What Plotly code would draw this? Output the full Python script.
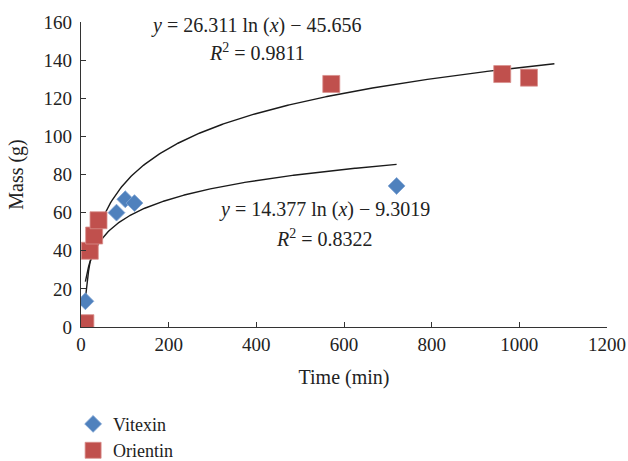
import numpy as np
import plotly.graph_objects as go

# Data
vit_time = [10, 81, 101, 122, 720]
vit_mass = [13.5, 60, 67, 65, 74]
ori_time = [10, 20, 30, 40, 571, 961, 1022]
ori_mass = [2, 40, 48, 56, 127.5, 132.7, 130.8]

# Logarithmic trendline coefficients (as printed on the chart)
vit_a, vit_b = 14.377, -9.3019
ori_a, ori_b = 26.311, -45.656
vit_fit_range = [10, 720]
ori_fit_range = [10, 1080]

x_ticks = [0, 200, 400, 600, 800, 1000, 1200]
y_ticks = [0, 20, 40, 60, 80, 100, 120, 140, 160]

FONT = "Liberation Serif"
BLUE = "#4F81BD"
RED = "#C0504D"
TXT = "#222"

vx = np.linspace(vit_fit_range[0], vit_fit_range[1], 300)
ox = np.linspace(ori_fit_range[0], ori_fit_range[1], 300)

fig = go.Figure()
fig.add_trace(go.Scatter(x=vx, y=vit_a * np.log(vx) + vit_b, mode="lines",
                         line=dict(color="#1a1a1a", width=1.4), showlegend=False, hoverinfo="skip"))
fig.add_trace(go.Scatter(x=ox, y=ori_a * np.log(ox) + ori_b, mode="lines",
                         line=dict(color="#1a1a1a", width=1.4), showlegend=False, hoverinfo="skip"))
fig.add_trace(go.Scatter(x=vit_time, y=vit_mass, mode="markers", name="Vitexin",
                         legendgroup="v",
                         marker=dict(symbol="diamond", size=13, color=BLUE,
                                     line=dict(color="#7FA3D3", width=0.8))))
fig.add_trace(go.Scatter(x=ori_time, y=ori_mass, mode="markers", name="Orientin",
                         legendgroup="o",
                         marker=dict(symbol="square", size=17, color=RED,
                                     line=dict(color="#D9908E", width=0.8))))

ann_font = dict(family=FONT, size=20, color=TXT)
annotations = [
    dict(x=401, y=158.4, text="<i>y</i> = 26.311 ln (<i>x</i>) − 45.656"),
    dict(x=401, y=144.4, text="<i>R</i><sup>2</sup> = 0.9811"),
    dict(x=556, y=61.4, text="<i>y</i> = 14.377 ln (<i>x</i>) − 9.3019"),
    dict(x=556, y=46.9, text="<i>R</i><sup>2</sup> = 0.8322"),
]
for a in annotations:
    a.update(xref="x", yref="y", showarrow=False, font=ann_font, xanchor="center", yanchor="middle")

axis_common = dict(showgrid=False, zeroline=False, showline=True, linecolor="#333", linewidth=1.2,
                   ticks="inside", ticklen=5, tickcolor="#333", tickwidth=1.2,
                   tickfont=dict(family=FONT, size=19, color=TXT))

fig.update_layout(
    width=628, height=461,
    margin=dict(l=81, r=21, t=22, b=134, autoexpand=False),
    paper_bgcolor="white", plot_bgcolor="white",
    font=dict(family=FONT, size=19, color=TXT),
    xaxis=dict(range=[0, 1200], tickvals=x_ticks,
               title=dict(text="Time (min)", font=dict(family=FONT, size=20), standoff=16), **axis_common),
    yaxis=dict(range=[0, 160], tickvals=y_ticks, ticklabelstandoff=4,
               title=dict(text="Mass (g)", font=dict(family=FONT, size=20), standoff=14), **axis_common),
    annotations=annotations,
    legend=dict(x=-0.015, y=-0.258, xanchor="left", yanchor="top", traceorder="grouped",
                tracegroupgap=0, font=dict(family=FONT, size=18, color=TXT),
                bgcolor="rgba(0,0,0,0)", itemwidth=30),
    showlegend=True,
)

fig.write_html("out.html")
